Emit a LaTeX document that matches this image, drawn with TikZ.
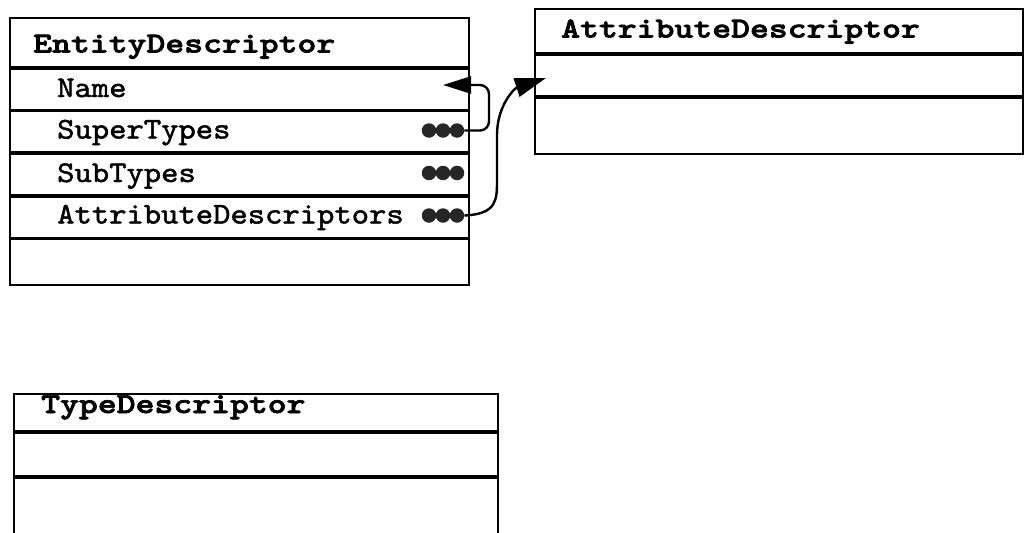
\documentclass[tikz,border=0pt]{standalone}
\usepackage{fontspec}
\usetikzlibrary{arrows.meta}
\newfontfamily\rowfont[FakeStretch=1.10,FakeBold=1.6]{lmmono10-regular.otf}
\newfontfamily\hdrfont[FakeStretch=1.24,FakeBold=2.4]{lmmonolt10-bold.otf}
\begin{document}
\begin{tikzpicture}[x=1pt,y=-1pt,
  boxline/.style={draw, line width=2pt},
  sepline/.style={line width=3.2pt},
  hdr/.style={anchor=base west, inner sep=0pt, font=\fontsize{29}{29}\hdrfont},
  item/.style={anchor=base west, inner sep=0pt, font=\fontsize{30}{30}\rowfont},
  blob/.style={circle, fill=black!85, inner sep=0pt, minimum size=14.5pt},
  conn/.style={line width=2.4pt, rounded corners=9pt, -{Triangle[length=28pt,width=17pt]}}]
\useasboundingbox (0,0) rectangle (1026,533);

% EntityDescriptor
\node[boxline, anchor=north west, inner sep=0pt, minimum width=459pt, minimum height=267pt] (ent) at (9,17) {};
\foreach \y in {68,110.5,153,196,238.5} \draw[sepline] (9,\y) -- (468,\y);
\node[hdr] (enth) at (33,52.5) {EntityDescriptor};
\node[item] (name) at (57,97) {Name};
\node[item] (super) at (57,138.5) {SuperTypes};
\node[item] (sub) at (57,182) {SubTypes};
\node[item] (attrs) at (57,223.5) {AttributeDescriptors};
\foreach \r/\y in {s/130.5,b/173,a/215.5} {
  \node[blob] (\r1) at (429,\y) {};
  \node[blob] (\r2) at (443,\y) {};
  \node[blob] (\r3) at (457,\y) {};
}

% AttributeDescriptor
\node[boxline, anchor=north west, inner sep=0pt, minimum width=488pt, minimum height=145pt] (att) at (534,8) {};
\draw[sepline] (534,54) -- (1022,54);
\draw[sepline] (534,97) -- (1022,97);
\node[hdr] (atth) at (561,37.5) {AttributeDescriptor};

% TypeDescriptor
\node[boxline, anchor=north west, inner sep=0pt, minimum width=484pt, minimum height=160pt] (typ) at (13,393) {};
\draw[sepline] (13,432) -- (497,432);
\draw[sepline] (13,477) -- (497,477);
\node[hdr] (typh) at (41,413) {TypeDescriptor};

% connectors
\coordinate (nametip) at (443,85);
\coordinate (atttip) at (546,78);
\draw[conn] (s3.east) -- (489,130.5) -- (489,85) -- (nametip);
\draw[line width=2.4pt, -{Triangle[length=31pt,width=19pt]}] (a3.east) .. controls (497,214) and (497,200) .. (497,180) -- (497,135) .. controls (497,105) and (515,88) .. (atttip);
\end{tikzpicture}
\end{document}
